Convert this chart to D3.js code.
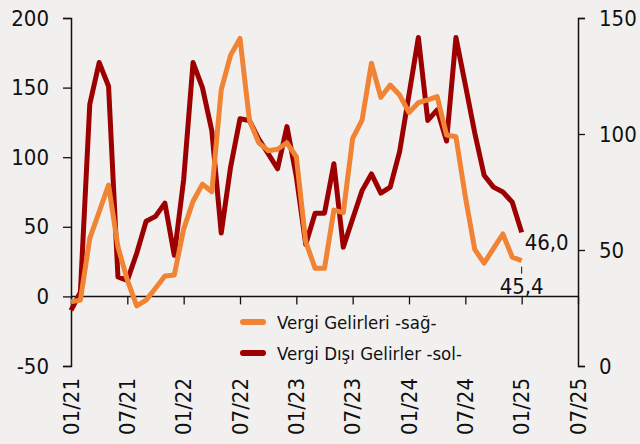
<!DOCTYPE html>
<html>
<head>
<meta charset="utf-8">
<script src="https://cdn.jsdelivr.net/npm/d3@7"></script>
<style>
  html, body { margin: 0; padding: 0; background: #f2f0ef; }
  text { font-family: "DejaVu Sans Condensed", "DejaVu Sans", sans-serif; fill: #111; }
</style>
</head>
<body>
<div id="chart"></div>
<script>
// monthly, 01/21 .. 01/25
var vergiDisi = [
  -10, 3, 138, 168, 151, 14, 11.5, 31, 54, 57.5, 67, 29.5,
  84, 168, 150, 119, 45.5, 93, 127.6, 126.4, 113, 102.5, 91.7, 122,
  86, 37.4, 59.8, 59.8, 95.3, 35.4, 55.8, 76, 88, 74.2, 78.5, 104,
  145, 186, 126.4, 134, 111.6, 186, 152, 117.6, 87, 78.5, 75, 67.7,
  46.0
];
var vergi = [
  27.7, 28.4, 55, 66.5, 78, 51.4, 37, 25.9, 28.4, 33.5, 38.8, 39.2,
  59, 71, 78.4, 75.1, 119, 134, 141.2, 106, 96.2, 92.8, 93.4, 96.2,
  90.2, 53.6, 42.1, 42.1, 67.2, 66.1, 98.1, 106, 130.5, 115.8, 121.1, 116.8,
  109.2, 113.5, 114.7, 116.1, 99.6, 98.8, 73, 50.3, 44.3, 50.7, 56.9, 46.9,
  45.4
];
var xTickLabels = ['01/21', '07/21', '01/22', '07/22', '01/23', '07/23', '01/24', '07/24', '01/25', '07/25'];
var leftTicks = [-50, 0, 50, 100, 150, 200];
var rightTicks = [0, 50, 100, 150];
var seriesNames = ['Vergi Gelirleri -sağ-', 'Vergi Dışı Gelirler -sol-'];

var W = 640, H = 444;
var pLeft = 71, pRight = 578, pTop = 18, pBottom = 366;

var svg = d3.select('#chart').append('svg')
    .attr('width', W)
    .attr('height', H);

var x = d3.scaleLinear().domain([0, 54]).range([pLeft, pRight]);
var yL = d3.scaleLinear().domain([-50, 200]).range([pBottom, pTop]);
var yR = d3.scaleLinear().domain([0, 150]).range([pBottom, pTop]);

var dark = '#9c0000', orange = '#f08334';

// left axis (plain hyphen for negatives, like the source)
var gl = svg.append('g').attr('transform', 'translate(' + pLeft + ',0)')
  .call(d3.axisLeft(yL).tickValues(leftTicks).tickSize(8).tickPadding(14).tickFormat(String));
// right axis
var gr = svg.append('g').attr('transform', 'translate(' + pRight + ',0)')
  .call(d3.axisRight(yR).tickValues(rightTicks).tickSize(7).tickPadding(14).tickFormat(String));
// horizontal axis on zero
var gx = svg.append('g').attr('transform', 'translate(0,' + yL(0) + ')')
  .call(d3.axisBottom(x).tickValues(d3.range(0, 55, 6)).tickSize(8).tickFormat(''));

[gl, gr, gx].forEach(function(g) {
  g.select('.domain').attr('stroke', '#111').attr('stroke-width', 1.5);
  g.selectAll('.tick line').attr('stroke', '#111').attr('stroke-width', 1.3);
  g.selectAll('text').style('font-size', '22px').attr('fill', '#111');
});
gx.select('.domain').attr('d', 'M' + pLeft + ',0H' + pRight);

// rotated month labels
svg.append('g').selectAll('text')
  .data(xTickLabels)
  .enter().append('text')
  .attr('transform', function(d, i) { return 'translate(' + x(i * 6) + ',378) rotate(-90)'; })
  .attr('text-anchor', 'end')
  .attr('dy', '0.35em')
  .style('font-size', '22px')
  .text(function(d) { return d; });

// lines
var lineL = d3.line().x(function(d, i) { return x(i); }).y(function(d) { return yL(d); });
var lineR = d3.line().x(function(d, i) { return x(i); }).y(function(d) { return yR(d); });

svg.append('path').datum(vergiDisi)
  .attr('d', lineL).attr('fill', 'none')
  .attr('stroke', dark).attr('stroke-width', 5).attr('stroke-linejoin', 'round');
svg.append('path').datum(vergi)
  .attr('d', lineR).attr('fill', 'none')
  .attr('stroke', orange).attr('stroke-width', 5).attr('stroke-linejoin', 'round');

// end labels
var n = vergi.length - 1;
function fmt(v) { return v.toFixed(1).replace('.', ','); }
svg.append('text')
  .attr('x', x(n) + 3).attr('y', yL(vergiDisi[n]) + 18)
  .style('font-size', '22px')
  .text(fmt(vergiDisi[n]));
svg.append('line')
  .attr('x1', x(n)).attr('x2', x(n))
  .attr('y1', yR(vergi[n]) + 6).attr('y2', yR(vergi[n]) + 13)
  .attr('stroke', '#111').attr('stroke-width', 1);
svg.append('text')
  .attr('x', x(n)).attr('y', yR(vergi[n]) + 33)
  .attr('text-anchor', 'middle')
  .style('font-size', '22px')
  .text(fmt(vergi[n]));

// legend
var leg = svg.append('g');
[orange, dark].forEach(function(c, i) {
  var yy = 322 + i * 31;
  leg.append('line')
    .attr('x1', 243).attr('x2', 263).attr('y1', yy).attr('y2', yy)
    .attr('stroke', c).attr('stroke-width', 6).attr('stroke-linecap', 'round');
  leg.append('text')
    .attr('x', 277).attr('y', yy + 6.5)
    .style('font-size', '18.5px')
    .text(seriesNames[i]);
});
</script>
</body>
</html>
